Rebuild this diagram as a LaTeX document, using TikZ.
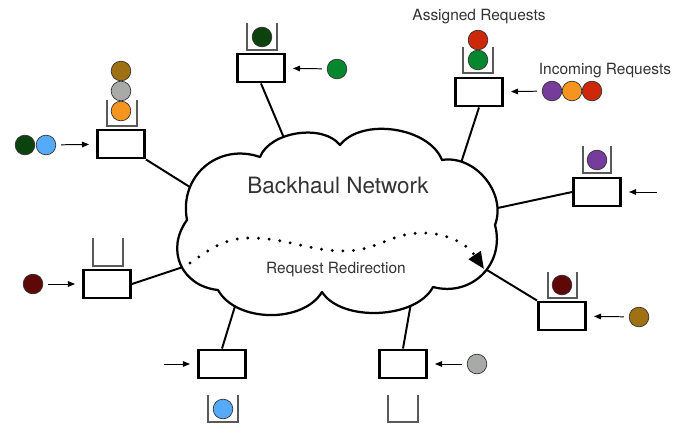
\documentclass[tikz,border=0pt]{standalone}
\usepackage{fontspec}
\setmainfont{TeX Gyre Heros}
\usetikzlibrary{arrows.meta}
\definecolor{dkgreen}{RGB}{12,66,14}
\definecolor{green}{RGB}{5,135,45}
\definecolor{skyblue}{RGB}{85,170,250}
\definecolor{orange}{RGB}{245,148,30}
\definecolor{ashgray}{RGB}{168,170,168}
\definecolor{ochre}{RGB}{160,112,20}
\definecolor{red}{RGB}{205,40,10}
\definecolor{purple}{RGB}{118,60,155}
\definecolor{maroon}{RGB}{95,8,8}

\begin{document}
\begin{tikzpicture}[x=0.025cm, y=0.025cm,
    server/.style={draw, line width=1.8pt, minimum width=33.7pt, minimum height=20.2pt, inner sep=0pt},
    ball/.style={circle, draw=black!80, line width=0.5pt, minimum size=14pt, inner sep=0pt, fill=#1},
    bin/.style={draw=black!65, line width=0.8pt},
    feed/.style={-{Triangle[length=5pt, width=4pt]}, line width=0.7pt, shorten <=3.5pt, shorten >=5pt},
    link/.style={line width=1.4pt},
    cloud/.style={draw, fill=white, line width=1.6pt, line join=round},
    redirect/.style={line width=2.3pt, line cap=round, dash pattern=on 0pt off 7.6pt, -{Triangle[length=12pt, width=10pt]}},
    caption/.style={text=black!80, font=\fontsize{11}{13}\selectfont, anchor=base}]

    \useasboundingbox (0, 0) rectangle (700, 424);

    \node [server] (s1) at (121, 280) {};
    \node [server] (s2) at (261, 356) {};
    \node [server] (s3) at (479, 332) {};
    \node [server] (s4) at (597, 232) {};
    \node [server] (s5) at (107, 140) {};
    \node [server] (s6) at (562, 108) {};
    \node [server] (s7) at (222, 60) {};
    \node [server] (s8) at (403, 60) {};

    \coordinate (e1) at (193, 235);
    \coordinate (e2) at (284, 286);
    \coordinate (e3) at (461, 261);
    \coordinate (e4) at (493, 215);
    \coordinate (e5) at (186, 158);
    \coordinate (e6) at (482, 157);
    \coordinate (e7) at (236, 121);
    \coordinate (e8) at (411, 121);

    \draw [link] (s1.south east) to (e1);
    \draw [link] (s2.south) to (e2);
    \draw [link] (s3.south) to (e3);
    \draw [link] (s4.west) to (e4);
    \draw [link] (s5.east) to (e5);
    \draw [link] (s6.north west) to (e6);
    \draw [link] (s7.north) to (e7);
    \draw [link] (s8.north) to (e8);

    \draw [cloud] (260, 267) to[bend left=60, looseness=0.87] (340, 279)
        to[bend left=60, looseness=0.88] (442, 264)
        to[bend left=60, looseness=1.03] (495, 199)
        to[bend left=60, looseness=1.17] (433, 137)
        to[bend left=60, looseness=0.83] (322, 132)
        to[bend left=60, looseness=0.91] (218, 134)
        to[bend left=60, looseness=1.23] (187, 204)
        to[bend left=60, looseness=1.18] (260, 267) -- cycle;

    \node [text=black!80, font=\fontsize{16}{19}\selectfont, anchor=base] (net) at (338, 231) {Backhaul Network};
    \node [caption] (redir) at (336, 151) {Request Redirection};
    \node [caption] (assigned) at (479, 404) {Assigned Requests};
    \node [caption] (incoming) at (605, 350) {Incoming Requests};

    \coordinate (r0) at (190, 161);
    \coordinate (r1) at (484, 155);
    \draw [redirect] (r0) to[out=35, in=180] (250, 186) to[out=0, in=180] (345, 173)
        to[out=0, in=180] (422, 191) to[out=0, in=124] (r1);

    \draw [bin] (107, 324) |- (137, 298) -- (137, 324);
    \draw [bin] (247, 401) |- (277, 374) -- (277, 401);
    \draw [bin] (463, 377) |- (493, 351) -- (493, 377);
    \draw [bin] (583, 278) |- (611, 251) -- (611, 278);
    \draw [bin] (93, 186) |- (123, 158) -- (123, 186);
    \draw [bin] (548, 152) |- (577, 126) -- (577, 152);
    \draw [bin] (208, 29) |- (238, 2) -- (238, 29);
    \draw [bin] (388, 29) |- (418, 2) -- (418, 29);

    \node [ball=orange] (q1a) at (121, 313) {};
    \node [ball=ashgray] (q1b) at (121, 333) {};
    \node [ball=ochre] (q1c) at (121, 353) {};
    \node [ball=dkgreen] (q2a) at (262, 387) {};
    \node [ball=green] (q3a) at (478, 364) {};
    \node [ball=red] (q3b) at (478, 384) {};
    \node [ball=purple] (q4a) at (597, 264) {};
    \node [ball=maroon] (q6a) at (562, 139) {};
    \node [ball=skyblue] (q7a) at (223, 15) {};

    \node [ball=dkgreen] (in1a) at (25, 279) {};
    \node [ball=skyblue] (in1b) at (46, 279) {};
    \node [ball=green] (in2) at (337, 355) {};
    \node [ball=purple] (in3a) at (552, 333) {};
    \node [ball=orange] (in3b) at (572, 333) {};
    \node [ball=red] (in3c) at (592, 333) {};
    \node [ball=maroon] (in5) at (33, 140) {};
    \node [ball=ochre] (in6) at (639, 107) {};
    \node [ball=ashgray] (in8) at (477, 60) {};
    \coordinate (src4) at (657, 232);
    \coordinate (src7) at (164, 60);

    \draw [feed] (in1b) to (s1);
    \draw [feed] (in2) to (s2);
    \draw [feed] (in3a) to (s3);
    \draw [feed, shorten <=0pt] (src4) to (s4);
    \draw [feed] (in5) to (s5);
    \draw [feed] (in6) to (s6);
    \draw [feed, shorten <=0pt] (src7) to (s7);
    \draw [feed] (in8) to (s8);

\end{tikzpicture}
\end{document}
